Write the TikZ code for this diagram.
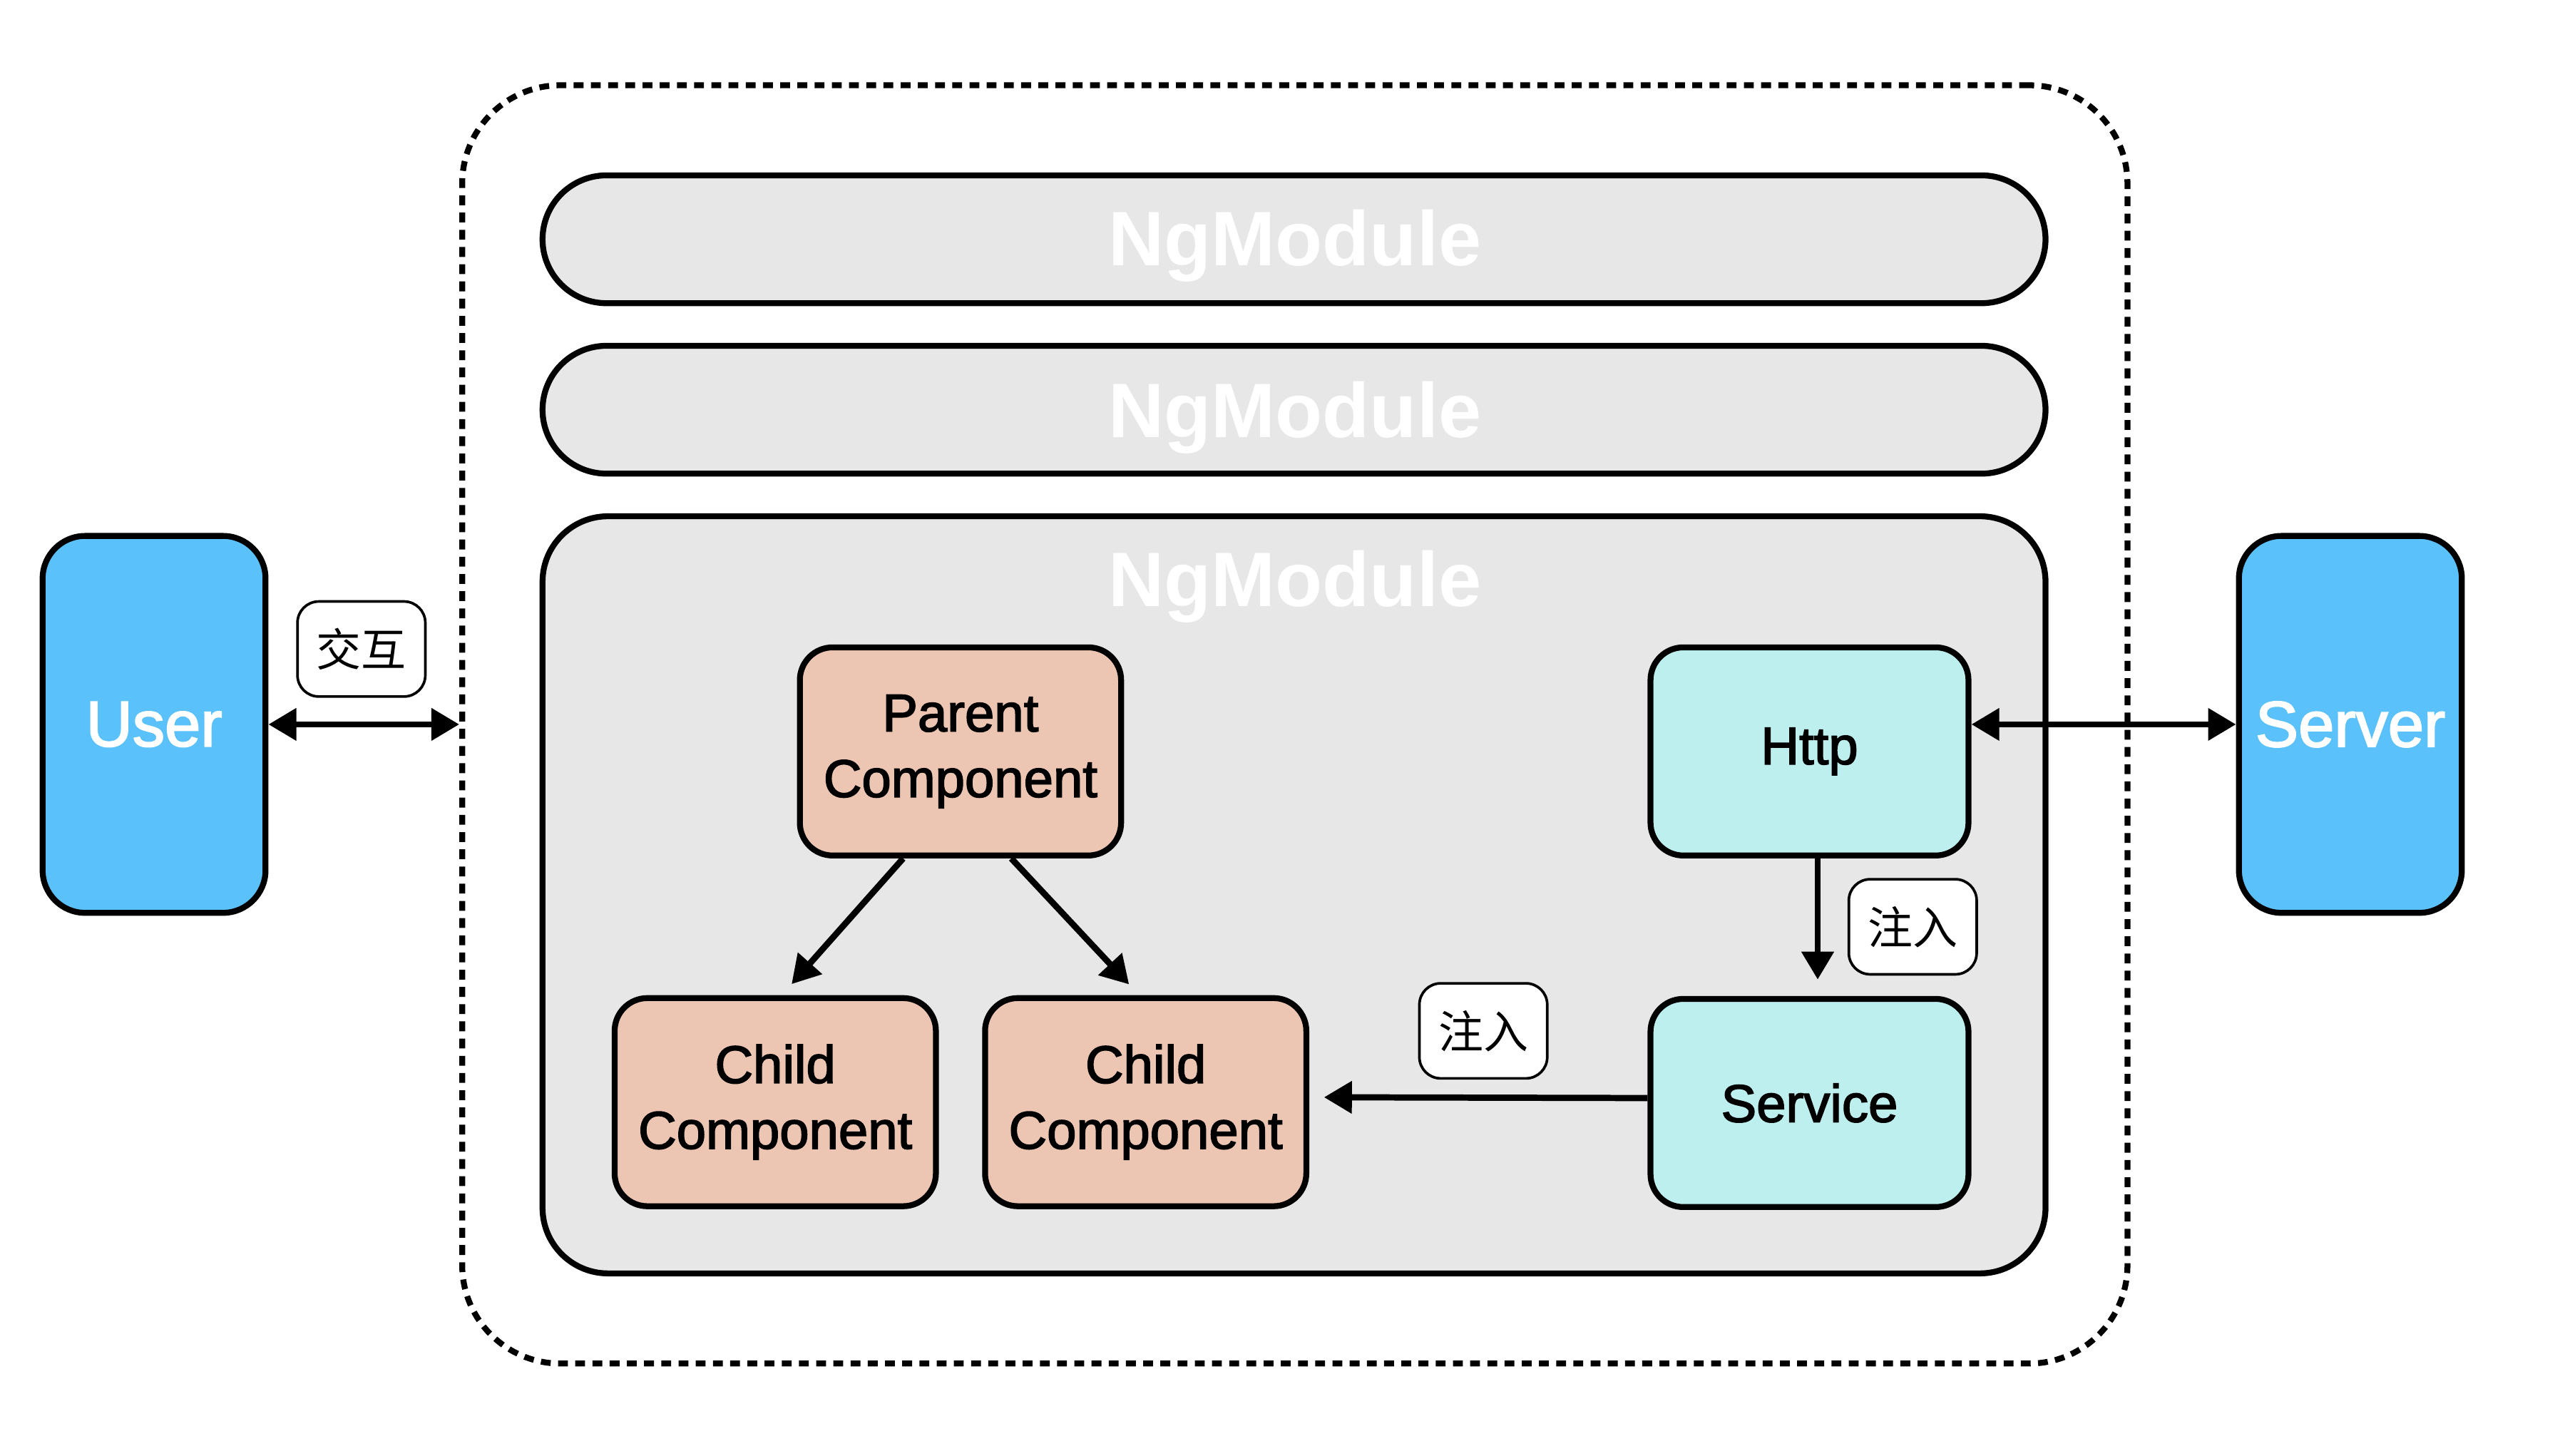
\documentclass[tikz,border=0pt]{standalone}
\usepackage{fontspec}
\setmainfont{Liberation Sans}
\newfontfamily\medsans[FakeBold=2.2]{Liberation Sans}
\newfontfamily\cjk{Noto Sans CJK SC}
\usetikzlibrary{arrows.meta}
\definecolor{modgray}{HTML}{E7E7E7}
\definecolor{userblue}{HTML}{5AC1FB}
\definecolor{peach}{HTML}{ECC6B3}
\definecolor{cyanbox}{HTML}{BDEFEE}
\tikzset{
  box/.style={draw, line width=0.36mm, inner sep=0pt, align=center},
  modbar/.style={box, fill=modgray, minimum width=91.7mm, minimum height=7.8mm, rounded corners=3.9mm},
  modtext/.style={text=white, font=\bfseries\fontsize{13.4}{16}\selectfont},
  endbox/.style={box, fill=userblue, minimum width=13.6mm, minimum height=23mm, rounded corners=2.6mm, text=white, font=\medsans\fontsize{11.2}{13}\selectfont},
  comp/.style={box, fill=peach, minimum width=19.6mm, minimum height=12.7mm, rounded corners=2mm, font=\medsans\fontsize{9.2}{11.4}\selectfont},
  svc/.style={box, fill=cyanbox, minimum width=19.4mm, minimum height=12.7mm, rounded corners=2mm, font=\medsans\fontsize{9.2}{11.4}\selectfont},
  lbl/.style={draw, line width=0.16mm, fill=white, inner sep=0pt, rounded corners=1.3mm, minimum width=7.8mm, minimum height=5.8mm, font=\cjk\fontsize{7.8}{9}\selectfont},
  tip/.tip={Triangle[length=1.7mm,width=1.9mm]},
  arr/.style={line width=0.38mm, -tip},
  darr/.style={line width=0.38mm, tip-tip}
}
\begin{document}
\begin{tikzpicture}[x=0.1mm,y=-0.1mm]
\useasboundingbox[fill=white] (0,0) rectangle (1568,888);
% outer dashed frame
\node[draw, line width=0.36mm, dash pattern=on 0.6mm off 0.45mm, rounded corners=6mm, minimum width=101.6mm, minimum height=78mm, inner sep=0pt] (outer) at (790,442) {};
% modules
\node[modbar] (m1) at (789.5,146) {};
\node[modtext] (m1t) at (790,150) {NgModule};
\node[modbar] (m2) at (789.5,250) {};
\node[modtext] (m2t) at (790,255) {NgModule};
\node[box, fill=modgray, minimum width=91.7mm, minimum height=46.2mm, rounded corners=4mm] (m3) at (789.5,546) {};
\node[modtext] (m3t) at (790,358) {NgModule};
% user / server
\node[endbox] (user) at (94,442) {User};
\node[endbox] (server) at (1434,442) {Server};
% components
\node[comp] (parent) at (586,458.5) {Parent\\Component};
\node[comp] (child1) at (473,672.5) {Child\\Component};
\node[comp] (child2) at (699,672.5) {Child\\Component};
\node[svc] (http) at (1104,458.5) {Http};
\node[svc] (service) at (1104,673) {Service};
% labels
\node[lbl] (jh) at (220.5,396) {交互};
\node[lbl] (zr1) at (1167,565.5) {注入};
\node[lbl] (zr2) at (905,629) {注入};
% connectors
\draw[darr] (user.east) -- (outer.west);
\draw[darr] (server.west -| http.east) -- (server.west);
\draw[arr, shorten >=0.9mm] ([xshift=-3.5mm]parent.south) -- ([xshift=0.4mm]child1.north);
\draw[arr, shorten >=0.9mm] ([xshift=3.1mm]parent.south) -- ([xshift=-0.4mm]child2.north);
\draw[arr, shorten >=1mm] ([xshift=0.5mm]http.south) -- ([xshift=0.5mm]service.north);
\draw[arr, shorten >=0.9mm] ([yshift=0.3mm]service.west) -- ([yshift=0.3mm]child2.east);
\end{tikzpicture}
\end{document}
